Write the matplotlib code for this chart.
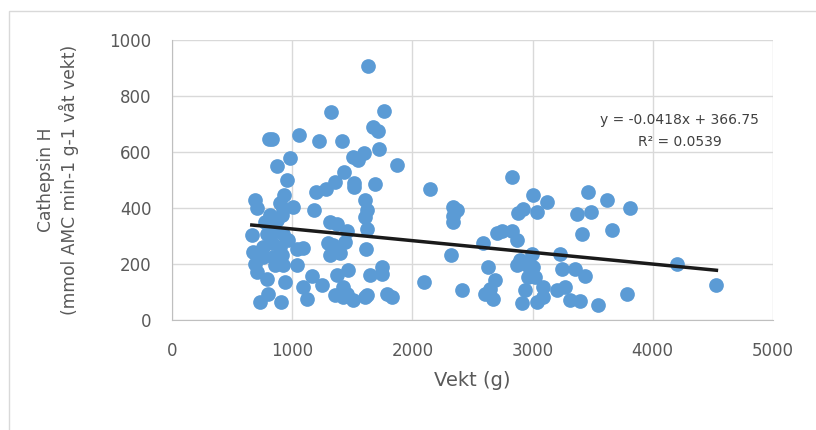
import matplotlib.pyplot as plt
from matplotlib.patches import Rectangle

# weight (g) and Cathepsin H activity
vekt = [663, 677, 690, 710, 690, 704, 732, 760, 760, 774, 788, 788, 801, 805, 835,
        815, 829, 843, 843, 857, 871, 871, 898, 898, 904, 913, 913, 926, 926, 926,
        932, 940, 959, 968, 982, 1009, 1037, 1042, 1057, 1092, 1092, 1120, 1162, 1184,
        1198, 1220, 1245, 1281, 1300, 1314, 1314, 1323, 1342, 1356, 1356, 1370, 1370,
        1398, 1414, 1425, 1426, 1431, 1439, 1453, 1453, 1467, 1506, 1509, 1515, 1515,
        1550, 1597, 1606, 1620, 1606, 1620, 1614, 1606, 1620, 1629, 1647, 1675, 1716,
        1689, 1725, 1744, 1744, 1764, 1786, 1828, 1869,
        2100, 2146, 2321, 2340, 2368, 2340, 2340, 2410, 2590, 2604, 2626, 2646, 2673,
        2687, 2701, 2743, 2826, 2826, 2873, 2868, 2881, 2895, 2909, 2923, 2937, 2951,
        2965, 2992, 3006, 3006, 3020, 3034, 3039, 3089, 3089, 3117, 3200, 3228, 3242,
        3270, 3311, 3353, 3367, 3394, 3414, 3436, 3464, 3483, 3547, 3616, 3663, 3783,
        3810, 4199, 4531]
cathepsin = [302, 243, 427, 401, 201, 171, 64, 261, 225, 350, 308, 147, 94, 646, 646,
             374, 273, 314, 225, 195, 356, 550, 416, 261, 64, 374, 231, 398, 308, 195,
             445, 135, 499, 284, 580, 404, 255, 197, 660, 258, 117, 76, 156, 394,
             457, 640, 123, 469, 273, 350, 231, 743, 267, 491, 88, 342, 159,
             238, 640, 82, 117, 529, 278, 318, 94, 180, 581, 70, 490, 476,
             573, 597, 427, 392, 369, 326, 255, 82, 88, 906, 159, 688, 676,
             487, 611, 189, 165, 747, 94, 82, 554,
             135, 467, 231, 404, 392, 370, 350, 106, 273, 94, 189, 112, 76,
             141, 311, 318, 317, 509, 284, 195, 382, 213, 60, 398, 106, 195,
             153, 237, 445, 189, 153, 64, 386, 82, 117, 422, 106, 234, 183,
             117, 70, 183, 380, 67, 308, 156, 457, 386, 52, 430, 323, 91,
             401, 201, 126]

slope = -0.0418
intercept = 366.75

fig = plt.figure(figsize=(8.16, 4.30), dpi=100)
fig.patches.append(Rectangle((0.011, -0.05), 1.1, 1.024, transform=fig.transFigure,
                             fill=False, edgecolor='#d9d9d9', linewidth=1))
ax = fig.add_axes([0.211, 0.256, 0.736, 0.651])

ax.scatter(vekt, cathepsin, s=112, color='#5b9bd5', zorder=3, linewidths=0)
x_line = [min(vekt), max(vekt)]
ax.plot(x_line, [slope * x + intercept for x in x_line], color='#1a1a1a', lw=2.5, zorder=4)

ax.set_xlim(0, 5000)
ax.set_ylim(0, 1000)
ax.set_xticks(range(0, 5001, 1000))
ax.set_yticks(range(0, 1001, 200))
ax.grid(True, color='#d9d9d9', lw=1)
ax.set_axisbelow(True)
for side in ['top', 'right']:
    ax.spines[side].set_visible(False)
for side in ['left', 'bottom']:
    ax.spines[side].set_color('#bfbfbf')
ax.tick_params(length=0, labelsize=12, labelcolor='#595959')
ax.tick_params(axis='x', pad=16)
ax.tick_params(axis='y', pad=15)

ax.set_xlabel('Vekt (g)', fontsize=14, color='#595959', labelpad=8)
ax.set_ylabel('Cathepsin H\n(mmol AMC min-1 g-1 våt vekt)', fontsize=12.3,
              color='#595959', labelpad=22)

ax.text(0.845, 0.675, 'y = -0.0418x + 366.75\nR² = 0.0539', transform=ax.transAxes,
        ha='center', va='center', fontsize=10, color='#404040', linespacing=1.75)

fig.savefig('out.png', dpi=100)
